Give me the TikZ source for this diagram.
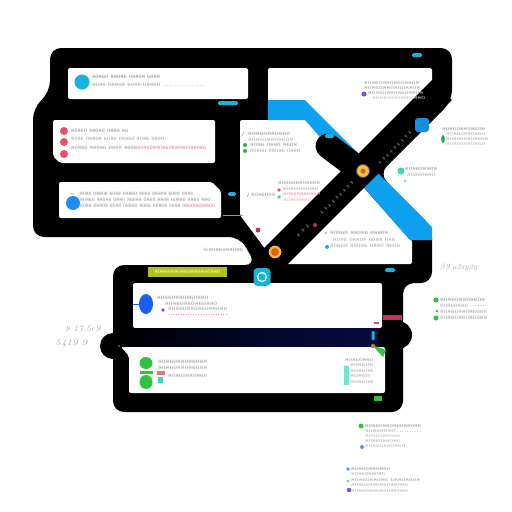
\documentclass[tikz,border=0pt]{standalone}
\usepackage{graphicx}
\definecolor{cyanA}{HTML}{16B4DA}
\definecolor{blueS}{HTML}{0EA0EE}
\definecolor{blueD}{HTML}{1E8EF0}
\definecolor{blueO}{HTML}{1A60EE}
\definecolor{pinkA}{HTML}{E8506E}
\definecolor{greenA}{HTML}{2EC43E}
\definecolor{tealA}{HTML}{3AD8B8}
\definecolor{navyA}{HTML}{070A40}
\definecolor{oliveA}{HTML}{B2C01C}
\definecolor{crimA}{HTML}{C4305C}
\definecolor{yelA}{HTML}{F4C23A}
\definecolor{oraA}{HTML}{E0601A}
\definecolor{purA}{HTML}{7A4CE0}
\newcommand\gtxt[2]{\resizebox{#1pt}{3.3pt}{#2}}
\newcommand\gsml[2]{\resizebox{#1pt}{2.9pt}{#2}}
\newcommand\gp{\hspace{1.1em}}
\begin{document}
\begin{tikzpicture}[x=1pt,y=-1pt,
  tx/.style={font=\bfseries,inner sep=0pt,anchor=west,text=#1},
  tx/.default=gray,
  rt/.style={font=\bfseries,inner sep=0pt,text=gray!55,rotate=45},
  dots/.style={draw=#1,line width=0.9pt,dash pattern=on 0.9pt off 1.6pt},
  panel/.style={fill=white,rounded corners=2pt},
  pill/.style={fill=cyanA,rounded corners=1.5pt}]
\useasboundingbox (0,0) rectangle (512,512);
\fill[white] (0,0) rectangle (512,512);

% black frame
\fill[black,rounded corners=11pt] (50,48) -- (452,48) -- (452,101) -- (379,174) -- (432,227)
  -- (432,283) -- (403,283) -- (403,412) -- (113,412) -- (113,265) -- (256,265)
  -- (240,237) -- (33,237) -- (33,108) -- (50,92) -- cycle;
\fill[black] (398,335) circle[radius=14pt];
\fill[black] (113,346) circle[radius=13pt];

% white panels
\fill[panel] (68,68) rectangle (248,99);
\fill[panel] (53,120) -- (215,120) -- (215,163) -- (60,163) -- (53,156) -- cycle;
\fill[panel] (59,182) -- (212,182) -- (221,191) -- (221,218) -- (59,218) -- cycle;
\fill[panel] (268,68) -- (432,68) -- (432,86) -- (345,172) -- (268,105) -- cycle;
\fill[panel] (240,120) -- (305,120) -- (350,171) -- (266,250) -- (240,215) -- cycle;
\fill[panel] (350,172) -- (410,240) -- (412,240) -- (412,264) -- (285,264) -- cycle;
\fill[panel] (133,283) rectangle (382,328);
\shade[left color=black,right color=navyA,middle color=navyA!60!black] (120,328) rectangle (378,347);
\fill[panel] (121,347) -- (385,347) -- (385,393) -- (129,393) -- (129,356) -- cycle;

% blue stripe
\fill[blueS] (268,100) -- (305,100) -- (432,227) -- (432,240) -- (410,240) -- (305,120) -- (268,120) -- cycle;

% diagonal roads
\coordinate (rA) at (262,270);
\coordinate (rB) at (442,90);
\coordinate (sA) at (328,146);
\coordinate (sB) at (360,170);
\draw[black,line width=28pt] (rA) -- (rB);
\draw[black,line width=25pt,line cap=round] (sA) -- (sB);

% small accents
\fill[pill] (218,101) rectangle (238,105);
\fill[pill] (228,192) rectangle (236,196);
\fill[pill] (412,53) rectangle (422,57);
\fill[pill] (325,134) rectangle (334,138);
\fill[pill] (385,268) rectangle (395,272);
\draw[purA!70,line width=0.6pt] (223,215) -- (243,215);
\fill[crimA] (383,315) rectangle (402,320);
\fill[greenA] (374,396) rectangle (382,401);
\fill[crimA] (258,230) circle[radius=2.5pt];
\fill[crimA] (315,225) circle[radius=2pt];
\fill[crimA] (119,346) circle[radius=1.2pt];
\fill[pinkA] (374,322) rectangle (379,323.5);
\fill[cyanA,rounded corners=1pt] (371.5,331) rectangle (374.5,340);
\fill[oraA] (373,346) circle[radius=2.2pt];
\fill[greenA] (372,345) -- (386,350) -- (383,357) -- cycle;

% crossing and junction dots
\node[circle,fill=yelA,draw=black!70,line width=0.8pt,minimum size=13pt,inner sep=0pt] (x1) at (363,171) {};
\fill[oraA] (x1) circle[radius=2.5pt];
\node[circle,fill=yelA!90!orange,draw=black,line width=1pt,minimum size=14pt,inner sep=0pt] (x2) at (275,252) {};
\fill[oraA] (x2) circle[radius=4pt];
\node[fill=cyanA,rounded corners=4pt,minimum width=17pt,minimum height=18pt,inner sep=0pt] (bdg) at (262,277) {};
\draw[white,line width=1.2pt] (bdg.center) circle[radius=4.5pt];
\node[fill=cyanA!80!blue,rounded corners=3pt,minimum width=14pt,minimum height=14pt,inner sep=0pt] (bdg2) at (422,125) {};
\fill[black!60] (bdg2.center) circle[radius=1.2pt];

% panel 1
\fill[cyanA] (82,82) circle[radius=7.5pt];
\node[tx=gray!85] (p1a) at (92,77) {\gtxt{68}{80860 88086 08808 6088}};
\node[tx=gray!70] (p1b) at (92,85) {\gtxt{68}{8086 08808 6088 08860}};
\draw[dots=gray!30] (162,85) -- (205,85);

% panel 2
\fill[pinkA] (64,131) circle[radius=4pt];
\fill[pinkA] (64,142) circle[radius=4pt];
\fill[pinkA] (64,154) circle[radius=4pt];
\node[tx=gray!80] (p2a) at (71,131) {\gtxt{57}{80860 88086 0880 86}};
\node[tx=gray!65] (p2b) at (71,139) {\gtxt{93}{8086 08808 6088 08860 8086 0880}};
\node[tx=gray!75] (p2c) at (71,148) {\gtxt{66}{80860 88086 0880 8608}};
\node[tx=pinkA!70] (p2d) at (137,148) {\gtxt{69}{8086088086088086088086}};

% panel 3
\draw[gray!70,line width=0.6pt] (70,194) .. controls (71.5,192.5) and (72.5,195.5) .. (74,194);
\fill[blueD] (73,203) circle[radius=7pt];
\node[tx=gray!80] (p3a) at (80,194) {\gtxt{113}{8086 08808 6088 08860 8086 08808 6088 0886}};
\node[tx=gray!75] (p3b) at (80,200) {\gtxt{130}{80860 88086 0880 86088 0860 8808 60880 8860 880}};
\node[tx=gray!75] (p3c) at (80,206) {\gtxt{108}{8086 08808 6088 08860 8086 08808 6088 08}};
\node[tx=pinkA!70] (p3d) at (188,206) {\gtxt{27}{808608860}};

% panel 4
\draw[gray!70,line width=0.5pt] (242,136) -- (244,132);
\node[tx=gray!75] (p4a) at (248,134) {\gtxt{42}{80860880860}};
\node[tx=gray!55] (p4b) at (248,139.5) {\gtxt{45}{808608808608}};
\fill[greenA!80!teal] (245,145) circle[radius=2pt];
\fill[greenA!80!teal] (245,151) circle[radius=2pt];
\node[tx=gray!75] (p4c) at (250,145) {\gtxt{47}{8086 0880 8608}};
\node[tx=gray!60] (p4d) at (250,151) {\gtxt{50}{80860 88086 0880}};
\node[tx=gray!75] (p4e) at (278,183.5) {\gsml{42}{808608808608}};
\node[tx=gray!60] (p4f) at (283,189) {\gsml{35}{8086088086}};
\node[tx=pinkA!60] (p4g) at (283,194.5) {\gsml{37}{80860880860}};
\node[tx=pinkA!45] (p4h) at (283,200) {\gsml{28}{80860880}};
\fill[pinkA] (279,190) circle[radius=1.8pt];
\fill[tealA] (279,197) circle[radius=1.8pt];
\draw[gray!70,line width=0.5pt] (247,197) -- (249,193);
\node[tx=gray!70] (p4i) at (251,195) {\gtxt{24}{8086088}};

% upper right
\fill[purA] (364,94) circle[radius=2.5pt];
\node[tx=gray!70] (u1) at (364,83) {\gsml{55}{808608808608808}};
\node[tx=gray!65] (u2) at (364,88) {\gsml{56}{808608808608808}};
\node[tx=gray!65] (u3) at (368,93) {\gsml{55}{808608808608808}};
\node[tx=gray!45] (u4) at (372,98) {\gsml{53}{80860880860880}};

% right outside
\fill[greenA!70!teal] (443,139) ellipse[x radius=1.8pt,y radius=4pt];
\node[tx=gray!75] (r1) at (442,129.5) {\gsml{43}{808608808608}};
\node[tx=gray!60] (r2) at (446,134.5) {\gsml{39}{80860880860}};
\node[tx=gray!60] (r3) at (446,139.5) {\gsml{42}{808608808608}};
\node[tx=gray!50] (r4) at (446,144.5) {\gsml{39}{80860880860}};
\fill[tealA] (401,171) circle[radius=3.5pt];
\fill[tealA] (405,181) circle[radius=1.2pt];
\node[tx=gray!75] (r5) at (405,169) {\gtxt{32}{808608808}};
\node[tx=gray!60] (r6) at (407,175) {\gtxt{28}{80860880}};

% below crossing
\fill[gray!70] (326,233) circle[radius=1pt];
\fill[cyanA] (327,247) circle[radius=2pt];
\node[tx=gray!75] (b1) at (330,233) {\gtxt{58}{80860 88086 08808}};
\node[tx=gray!60] (b2) at (333,239.5) {\gtxt{62}{8086 08808 6088 086}};
\node[tx=gray!60] (b3) at (330,246) {\gtxt{70}{80860 88086 0880 8608}};

% road texts
\node[rt] (rd1) at (395,148) {\gtxt{44}{8\gp0\gp8\gp6\gp0\gp8\gp8\gp0\gp6}};
\node[rt] (rd2) at (337,198) {\gtxt{44}{8\gp0\gp8\gp6\gp0\gp8\gp8\gp0\gp6}};
\node[rt] (rd3) at (303,231) {\gtxt{15}{8\gp0\gp8}};

% texts around
\node[tx=gray!75] (g1) at (203,250) {\gtxt{40}{@8086088086}};
\fill[oliveA] (148,267) rectangle (227,277);
\node[inner sep=0pt,text=yellow!35,font=\bfseries] (yb) at (187.5,272) {\gtxt{66}{80860880860880860880}};
\node[tx=gray!70,font=\itshape] (g2) at (440,268) {\resizebox{37pt}{5.5pt}{$\beta$9 a2sp2y}};
\fill[greenA] (436,300) circle[radius=2.5pt];
\fill[greenA] (437,311) circle[radius=1.5pt];
\fill[greenA] (436,318) circle[radius=2.5pt];
\node[tx=gray!75] (g3) at (440,300) {\gtxt{45}{808608808608}};
\node[tx=gray!60] (g4) at (440,305.5) {\gtxt{28}{80860880}};
\draw[dots=gray!40] (470,305.5) -- (485,305.5);
\node[tx=gray!65] (g5) at (440,312) {\gtxt{47}{8086088086088}};
\node[tx=gray!70] (g6) at (440,317.5) {\gtxt{47}{8086088086088}};
\node[tx=gray!70,font=\itshape] (g7) at (65,329) {\resizebox{35pt}{5.5pt}{8 17.5e9}};
\node[tx=gray!70,font=\itshape] (g8) at (55,344) {\resizebox{32pt}{5.5pt}{5419 9}};

% panel 5
\draw[blueO,line width=0.6pt] (133,304) -- (140,304);
\fill[blueO] (146,304) ellipse[x radius=7pt,y radius=10pt];
\node[tx=gray!75] (q1) at (157,298) {\gtxt{51}{80860880860880}};
\node[tx=gray!70] (q2) at (165,303.5) {\gtxt{52}{80860880860880}};
\fill[purA] (163,310) circle[radius=1.8pt];
\node[tx=gray!70] (q3) at (168,309) {\gtxt{59}{8086088086088086}};
\draw[dots=pinkA!60] (168,314) -- (228,314);

% panel 6
\fill[greenA] (146,363) ellipse[x radius=6.5pt,y radius=6pt];
\fill[greenA] (146,382) ellipse[x radius=6.5pt,y radius=7pt];
\fill[greenA] (140,371) rectangle (153,374);
\fill[pinkA!80] (157,371) rectangle (165,375);
\fill[tealA] (158,377) rectangle (163,383);
\node[tx=gray!75] (s1) at (158,362) {\gtxt{49}{8086088086088}};
\node[tx=gray!70] (s2) at (158,368) {\gtxt{49}{8086088086088}};
\node[tx=gray!70] (s3) at (168,376) {\gtxt{39}{80860880860}};
\fill[tealA!70] (344,366) rectangle (349,385);
\node[tx=gray!70] (s4) at (345,360) {\gsml{28}{80860880}};
\node[tx=gray!60] (s5) at (350,365.5) {\gsml{23}{808608}};
\node[tx=gray!60] (s6) at (350,371) {\gsml{23}{808608}};
\node[tx=gray!60] (s7) at (350,376.5) {\gsml{20}{80860}};
\node[tx=gray!60] (s8) at (350,382) {\gsml{23}{808608}};

% bottom texts
\fill[greenA] (361,426) circle[radius=2.5pt];
\fill[blueO!70] (362,447) circle[radius=2pt];
\node[tx=gray!75] (t1) at (365,426) {\gsml{56}{8086088086088086}};
\node[tx=gray!60] (t2) at (365,431) {\gsml{30}{80860880}};
\draw[dots=gray!35] (397,431) -- (420,431);
\node[tx=gray!45] (t3) at (365,436) {\gsml{35}{8086088086}};
\node[tx=gray!55] (t4) at (365,441) {\gsml{35}{8086088086}};
\node[tx=gray!50] (t5) at (365,446) {\gsml{40}{80860880860}};
\fill[blueO!70] (348,469) circle[radius=1.8pt];
\fill[blueO!50] (348,481) circle[radius=1.5pt];
\fill[purA] (349,490) circle[radius=2.2pt];
\node[tx=gray!75] (t6) at (351,469) {\gsml{39}{80860880860}};
\node[tx=gray!60] (t7) at (351,474.5) {\gsml{34}{8086088086}};
\node[tx=gray!65] (t8) at (351,480) {\gsml{69}{8086088086 08808608}};
\node[tx=gray!55] (t9) at (351,485.5) {\gsml{57}{8086088086088086}};
\node[tx=gray!55] (t10) at (351,491) {\gsml{57}{8086088086088086}};
\end{tikzpicture}
\end{document}
